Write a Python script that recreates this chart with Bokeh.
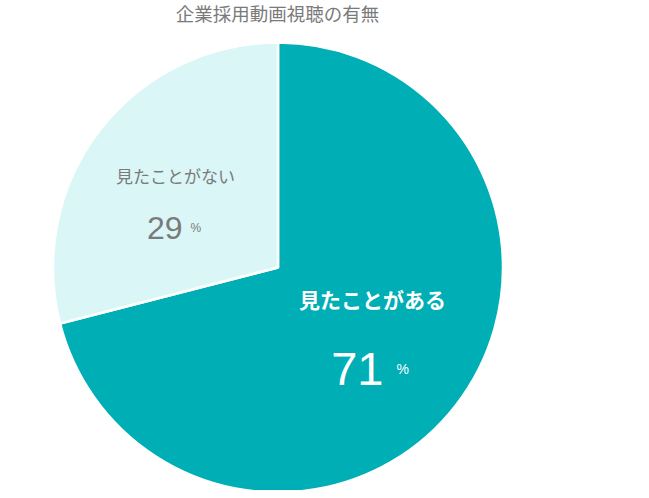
import math
from bokeh.plotting import figure
from bokeh.models import Range1d, ColumnDataSource
from bokeh.core.properties import value
from bokeh.embed import file_html
from bokeh.resources import INLINE

# ---- data ----
title_text = "企業採用動画視聴の有無"
categories = ["見たことがある", "見たことがない"]
percents = [71, 29]
colors = ["#00AEB5", "#DAF6F7"]
label_colors = ["#FFFFFF", "#7A7A7A"]

# ---- layout (screen pixels of the window) ----
W, H = 641, 490
def sy(y):  # screen y -> data y (data y goes up)
    return H - y

cx, cy = 277.5, sy(267)
R = 225

p = figure(width=W, height=H, output_backend="svg", toolbar_location=None,
           x_range=Range1d(0, W), y_range=Range1d(0, H),
           min_border=0, outline_line_color=None, background_fill_color="white",
           border_fill_color="white")
p.axis.visible = False
p.grid.visible = False

total = sum(percents)
cum = 0
starts, ends = [], []
for v in percents:
    starts.append(math.pi / 2 - 2 * math.pi * cum / total)
    cum += v
    ends.append(math.pi / 2 - 2 * math.pi * cum / total)

src = ColumnDataSource(dict(start=starts, end=ends, color=colors, cat=categories, pct=percents))
p.wedge(x=cx, y=cy, radius=R, start_angle="start", end_angle="end", direction="clock",
        fill_color="color", line_color="white", line_width=2.5, source=src)

# title
p.text(x=[277], y=[sy(12.5)], text=[title_text], text_align="center", text_baseline="middle",
       text_font=value("Noto Sans CJK JP"), text_font_size="18.5px", text_color="#7A7A7A")

# labels per slice (positions as layout constants, screen coords)
label_pos = [(372, 298), (175, 175)]
label_size = ["21px", "17px"]
num_right = [(383, 368), (182, 227)]
num_size = ["47px", "32px"]
pct_left = [(396, 368), (190, 227)]
pct_size = ["14px", "12px"]

for i, (cat, v) in enumerate(zip(categories, percents)):
    lx, ly = label_pos[i]
    p.text(x=[lx], y=[sy(ly)], text=[cat], text_align="center", text_baseline="middle",
           text_font=value("Noto Sans CJK JP"), text_font_size=label_size[i],
           text_color=label_colors[i], text_font_style="bold" if i == 0 else "normal")
    nx, ny = num_right[i]
    p.text(x=[nx], y=[sy(ny)], text=[str(v)], text_align="right", text_baseline="alphabetic",
           text_font=value("Liberation Sans"), text_font_size=num_size[i],
           text_color=label_colors[i])
    px_, py_ = pct_left[i]
    p.text(x=[px_], y=[sy(py_)], text=["%"], text_align="left", text_baseline="alphabetic",
           text_font=value("Liberation Sans"), text_font_size=pct_size[i],
           text_color=label_colors[i])

open("out.html", "w").write(file_html(p, INLINE))
